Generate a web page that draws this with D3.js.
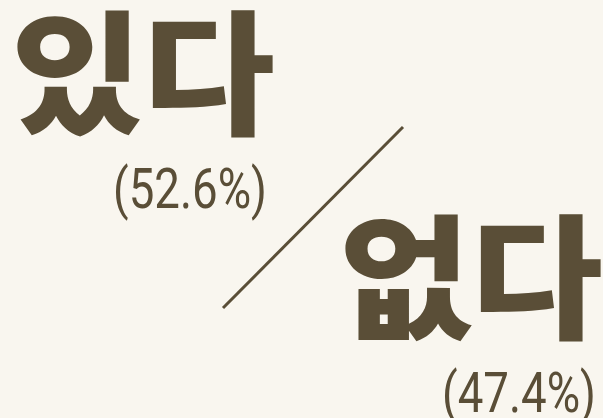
<!DOCTYPE html>
<html>
<head>
<meta charset="utf-8">
<script src="https://cdn.jsdelivr.net/npm/d3@7"></script>
<style>
  html, body { margin: 0; padding: 0; background: #f9f6ef; }
  svg { display: block; }
</style>
</head>
<body>
<div id="chart"></div>
<script>
// Chart data
var answers = ["있다", "없다"];
var shares = [52.6, 47.4];
var shareLabels = ["(52.6%)", "(47.4%)"];

var svgWidth = 603;
var svgHeight = 418;
var ink = "#5a4e37";

var svg = d3.select("#chart")
  .append("svg")
  .attr("width", svgWidth)
  .attr("height", svgHeight);

svg.append("rect")
  .attr("width", svgWidth)
  .attr("height", svgHeight)
  .attr("fill", "#f9f6ef");

// the two answers step down diagonally
var xWord = d3.scalePoint().domain(answers).range([11, 339]);
var yWord = d3.scalePoint().domain(answers).range([124, 328]);
var xPct = d3.scalePoint().domain(answers).range([267, 596]);
var yPct = d3.scalePoint().domain(answers).range([208, 412]);

var rows = answers.map(function(a, i) {
  return { answer: a, share: shares[i], label: shareLabels[i] };
});

// Big words
svg.selectAll(".word")
  .data(rows)
  .enter()
  .append("text")
  .attr("class", "word")
  .attr("transform", d => `translate(${xWord(d.answer)}, ${yWord(d.answer)}) scale(1.07, 1)`)
  .attr("font-family", "'Noto Sans CJK KR', sans-serif")
  .attr("font-weight", 900)
  .attr("font-size", "134px")
  .attr("fill", ink)
  .text(d => d.answer);

// Percent labels
svg.selectAll(".pct")
  .data(rows)
  .enter()
  .append("text")
  .attr("class", "pct")
  .attr("transform", d => `translate(${xPct(d.answer)}, ${yPct(d.answer)}) scale(0.83, 1)`)
  .attr("text-anchor", "end")
  .attr("font-family", "Roboto, sans-serif")
  .attr("font-weight", 400)
  .attr("font-size", "55px")
  .attr("fill", ink)
  .text(d => d.label);

// Divider slash
svg.append("line")
  .attr("x1", 223)
  .attr("y1", 308)
  .attr("x2", 403)
  .attr("y2", 127)
  .attr("stroke", ink)
  .attr("stroke-width", 3);
</script>
</body>
</html>
